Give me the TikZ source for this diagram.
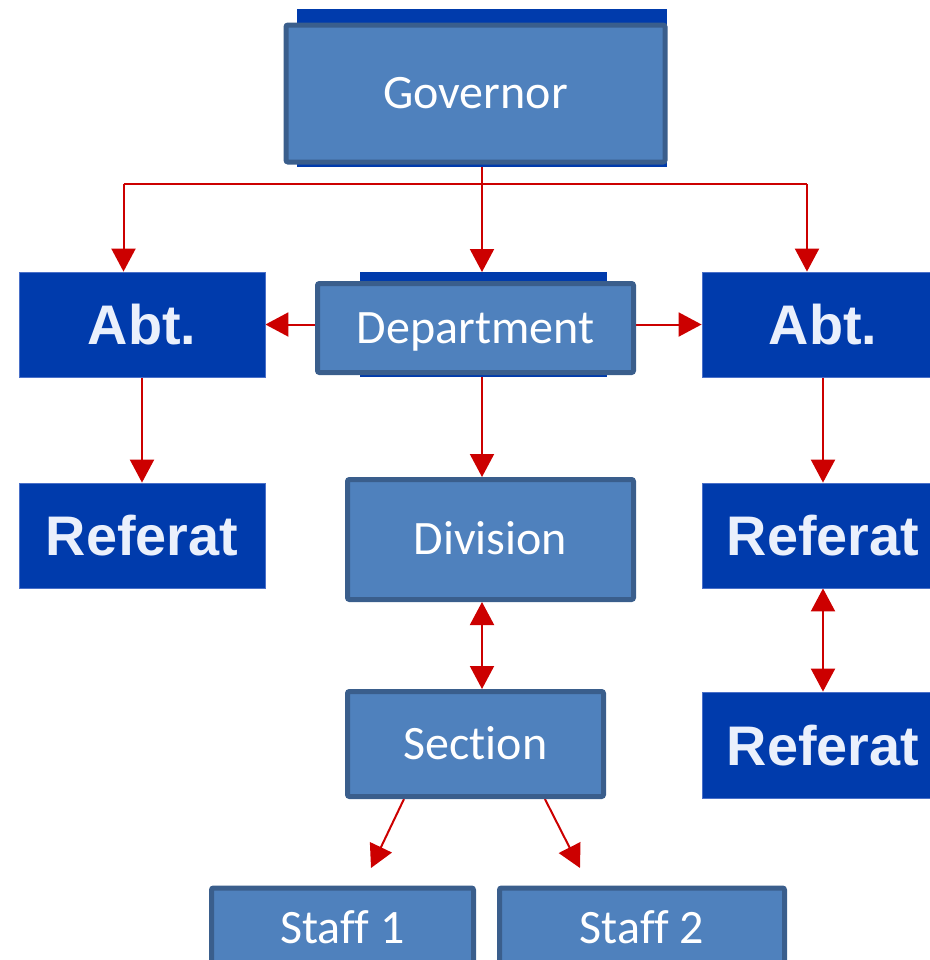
\documentclass[tikz,border=0pt]{standalone}
\usepackage{fontspec}
\setmainfont{Carlito}[Ligatures={NoCommon}]
\newfontfamily\abtfont{Liberation Sans}
\usetikzlibrary{arrows.meta,calc,backgrounds}
\definecolor{lightbox}{HTML}{4F81BD}
\definecolor{boxedge}{HTML}{3A5E8C}
\definecolor{darkbox}{HTML}{003BAC}
\definecolor{darkedge}{HTML}{4A70C8}
\definecolor{linkred}{HTML}{CC0000}
\definecolor{paletext}{HTML}{EAF0FC}
\tikzset{
  lightnode/.style={draw=boxedge, line width=2.5pt, fill=lightbox, rounded corners=1pt,
    text=white, font=\fontsize{24pt}{28pt}\selectfont, inner sep=0pt,
    text height=15.4pt, text depth=0pt},
  backnode/.style={fill=darkbox, draw=none, inner sep=0pt, outer sep=0pt},
  darknode/.style={fill=darkbox, draw=darkedge, line width=0.4pt, text=paletext,
    font=\abtfont\bfseries\fontsize{27.9pt}{32pt}\selectfont, inner sep=0pt,
    text height=20pt, text depth=0pt, minimum height=52.5pt},
  redtip/.tip={Triangle[width=12pt,length=11.5pt]},
  link/.style={draw=linkred, line width=1pt, -redtip},
  dlink/.style={draw=linkred, line width=1pt, redtip-redtip},
  plainlink/.style={draw=linkred, line width=1pt}
}
\begin{document}
\begin{tikzpicture}[x=0.5pt, y=-0.5pt]
\useasboundingbox (0,0) rectangle (930,960);
\clip (0,0) rectangle (930,960);
% Governor
\node[backnode, minimum width=185pt, minimum height=79pt] (govback) at (482,88) {};
\node[lightnode, minimum width=189.5pt, minimum height=68.5pt] (gov) at (475.5,93.5) {Governor};
% Department
\node[backnode, minimum width=123.5pt, minimum height=52.5pt] (deptback) at (483.5,324.5) {};
\node[lightnode, minimum width=158pt, minimum height=44.5pt] (dept) at (475.5,328) {Department};
% Abt boxes
\node[darknode, minimum width=123pt] (abt1) at (142,324.5) {Abt.};
\node[darknode, minimum width=121pt] (abt2) at (823,324.5) {Abt.};
% Referat boxes
\node[darknode, minimum width=123pt] (ref1) at (142,535.5) {Referat};
\node[darknode, minimum width=121pt] (ref2) at (823,535.5) {Referat};
\node[darknode, minimum width=121pt, minimum height=53pt] (ref3) at (823,745) {Referat};
% Division, Section, Staff
\node[lightnode, minimum width=143pt, minimum height=60pt] (div) at (490.5,539.5) {Division};
\node[lightnode, minimum width=128pt, minimum height=52.5pt] (sec) at (475.5,744) {Section};
\node[lightnode, minimum width=131pt, minimum height=40pt] (st1) at (342.5,928) {Staff 1};
\node[lightnode, minimum width=142.5pt, minimum height=40pt] (st2) at (642,928) {Staff 2};
% junctions
\coordinate (j) at (482,184);
\coordinate (jl) at (123.5,184);
\coordinate (jr) at (807,184);
\coordinate (t1) at (371,868);
\coordinate (t2) at (580,868);
\begin{scope}[on background layer]
\draw[plainlink] (gov.south -| j) -- (j);
\draw[plainlink] (jl) -- (jr);
\draw[link] (jl) -- (jl |- abt1.north);
\draw[link] (j) -- (j |- deptback.north);
\draw[link] (jr) -- (jr |- abt2.north);
\draw[link] (dept.west |- abt1) -- (abt1.east);
\draw[link] (dept.east |- abt2) -- (abt2.west);
\draw[link] (j |- deptback.south) -- (j |- div.north);
\draw[dlink] (j |- div.south) -- (j |- sec.north);
\draw[link] (abt1.south) -- (ref1.north);
\draw[link] (abt2.south) -- (ref2.north);
\draw[dlink] (ref2.south) -- (ref3.north);
\draw[link] ($(sec.south west)!0.226!(sec.south east)$) -- (t1);
\draw[link] ($(sec.south west)!0.766!(sec.south east)$) -- (t2);
\end{scope}
\end{tikzpicture}
\end{document}
